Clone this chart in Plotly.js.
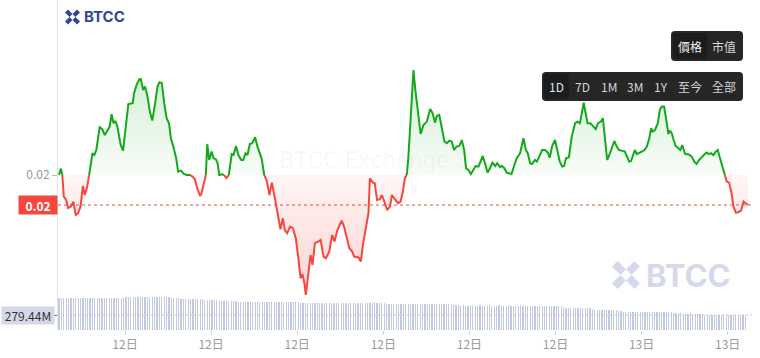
<!DOCTYPE html>
<html><head><meta charset="utf-8">
<script src="https://cdn.plot.ly/plotly-3.0.1.min.js"></script>
<style>html,body{margin:0;padding:0;background:#fff;}#chart{width:760px;height:358px;}</style>
</head><body><div id="chart"></div>
<script>
// ---- data ----
const openPrice = 0.02;
const priceMinutes = [222,226,229,232,237,241,247,252,257,262,267,272,276,281,285,289,292,296,300,307,312,318,323,328,332,336,340,344,351,356,362,367,376,379,384,390,393,398,402,407,412,417,423,428,432,437,442,447,452,456,461,467,471,477,483,489,496,501,506,511,517,520,525,529,532,536,538,541,545,550,554,557,563,567,572,577,583,587,592,597,603,607,612,616,621,626,632,637,642,646,651,656,662,667,674,680,685,690,694,699,705,711,717,722,727,731,735,738,743,748,752,757,764,769,775,780,787,793,798,804,813,818,823,829,835,839,848,853,858,865,869,872,878,882,887,893,897,901,908,914,918,924,931,936,941,945,949,952,957,963,967,971,978,984,991,998,1003,1008,1012,1017,1022,1028,1033,1038,1043,1048,1053,1059,1064,1069,1073,1078,1083,1088,1093,1099,1108,1113,1118,1123,1128,1134,1138,1144,1148,1153,1158,1163,1168,1174,1179,1186,1189,1193,1198,1202,1207,1211,1217,1221,1226,1232,1238,1244,1248,1253,1259,1264,1269,1274,1278,1282,1288,1294,1301,1306,1311,1315,1319,1323,1327,1333,1339,1344,1349,1355,1359,1363,1368,1374,1379,1383,1388,1393,1398,1405,1410,1414,1418,1423,1426,1430,1435,1440,1446,1451,1456,1460,1463,1468,1474,1478,1482,1487,1491,1496,1499,1503,1507,1511,1517,1521,1525,1531,1538,1545,1550,1555,1560,1566,1570,1576,1581,1585,1590,1595,1599,1604,1609,1614,1618,1623,1628,1632,1637,1642,1648,1653,1658,1662];
const prices = [0.020000,0.020032,0.020000,0.019892,0.019875,0.019835,0.019842,0.019867,0.019800,0.019809,0.019842,0.019945,0.019900,0.019942,0.020000,0.020067,0.020109,0.020100,0.020125,0.020239,0.020230,0.020200,0.020220,0.020242,0.020304,0.020259,0.020270,0.020242,0.020150,0.020122,0.020250,0.020355,0.020359,0.020409,0.020450,0.020479,0.020480,0.020425,0.020442,0.020392,0.020317,0.020272,0.020359,0.020442,0.020464,0.020459,0.020359,0.020284,0.020259,0.020184,0.020142,0.020084,0.020017,0.020022,0.020005,0.020000,0.020000,0.019992,0.019979,0.019934,0.019895,0.019909,0.019967,0.020000,0.020154,0.020075,0.020092,0.020117,0.020084,0.020079,0.020055,0.020000,0.020004,0.020000,0.019984,0.020000,0.020104,0.020100,0.020145,0.020100,0.020075,0.020075,0.020109,0.020100,0.020155,0.020159,0.020189,0.020142,0.020109,0.020079,0.020000,0.019975,0.019900,0.019962,0.019875,0.019800,0.019729,0.019784,0.019725,0.019709,0.019742,0.019734,0.019684,0.019592,0.019484,0.019504,0.019459,0.019400,0.019509,0.019600,0.019550,0.019659,0.019667,0.019675,0.019592,0.019584,0.019617,0.019700,0.019667,0.019725,0.019772,0.019742,0.019692,0.019634,0.019617,0.019592,0.019588,0.019567,0.019659,0.019759,0.019809,0.019984,0.019962,0.019959,0.019875,0.019879,0.019900,0.019875,0.019825,0.019842,0.019900,0.019879,0.019859,0.019867,0.019917,0.019984,0.020000,0.020075,0.020275,0.020525,0.020425,0.020334,0.020205,0.020250,0.020267,0.020330,0.020309,0.020262,0.020295,0.020300,0.020234,0.020167,0.020159,0.020172,0.020167,0.020125,0.020142,0.020145,0.020175,0.020125,0.020034,0.020025,0.020005,0.020025,0.020045,0.020042,0.020095,0.020055,0.020012,0.020034,0.020062,0.020045,0.020059,0.020039,0.020045,0.020034,0.020012,0.020009,0.020004,0.020050,0.020084,0.020109,0.020142,0.020184,0.020125,0.020109,0.020059,0.020055,0.020075,0.020067,0.020092,0.020125,0.020125,0.020112,0.020087,0.020145,0.020175,0.020125,0.020067,0.020042,0.020045,0.020084,0.020089,0.020192,0.020259,0.020267,0.020259,0.020309,0.020362,0.020309,0.020259,0.020259,0.020245,0.020229,0.020259,0.020267,0.020284,0.020192,0.020075,0.020109,0.020139,0.020170,0.020142,0.020125,0.020122,0.020117,0.020089,0.020067,0.020070,0.020112,0.020125,0.020104,0.020112,0.020117,0.020125,0.020142,0.020184,0.020234,0.020217,0.020225,0.020259,0.020325,0.020342,0.020342,0.020284,0.020205,0.020222,0.020209,0.020175,0.020145,0.020134,0.020125,0.020150,0.020105,0.020104,0.020092,0.020067,0.020055,0.020075,0.020092,0.020100,0.020112,0.020104,0.020109,0.020100,0.020117,0.020125,0.020084,0.020042,0.020000,0.019967,0.019962,0.019909,0.019842,0.019812,0.019814,0.019822,0.019867,0.019855,0.019850];
const volumeStartMinute = 222;
const volumeStepMinutes = 5;
const volumesM = [
594,596,597,595,598,596,597,599,596,598,597,595,
596,598,597,599,598,600,597,598,599,601,600,598,
600,602,601,604,608,610,612,611,613,612,614,615,
613,612,614,615,613,612,611,613,610,608,606,598,
592,590,588,586,585,583,582,580,578,577,575,573,
570,568,565,563,560,556,552,549,546,543,540,537,
535,533,531,530,529,528,527,526,525,524,523,522,
523,522,521,522,523,521,522,520,521,522,521,520,
521,520,519,518,516,510,505,504,503,502,503,504,
503,502,503,504,502,503,502,501,503,502,503,502,
504,503,502,503,504,503,502,503,502,504,506,512,
513,512,512,511,500,490,486,485,484,485,484,483,
484,485,484,483,484,485,484,483,484,485,484,483,
484,483,485,484,483,482,484,483,478,470,462,458,
456,457,455,456,457,456,455,456,457,456,455,456,
457,456,455,456,457,456,455,456,457,456,455,454,
456,457,455,456,455,454,456,455,454,456,455,454,
455,456,454,455,453,452,450,430,412,410,411,410,
409,410,411,410,409,408,405,390,375,373,374,372,
373,374,372,373,371,370,360,345,337,335,336,335,
334,335,336,335,334,335,336,334,335,334,335,336,
335,334,333,332,330,318,310,307,308,307,306,307,
308,307,306,305,300,290,283,281,280,281,280,279,
280,281,280,279,280,281,280,279,280,280,279,279.44];
const volumeLabel = '279.44M';
const volumeLabelValue = 279.44;
const priceTickLabel = '0.02';
const tickHours = [6,9,12,15,18,21,24,27];
const tickLabels = ['12日','12日','12日','12日','12日','12日','13日','13日'];
const modeButtons = ['價格','市值'];
const rangeButtons = ['1D','7D','1M','3M','1Y','至今','全部'];

// ---- helpers ----
const W = 760, H = 358;
const T0 = Date.UTC(2024,10,12);
const toDate = m => new Date(T0 + Math.round(m*60000)).toISOString().slice(0,23).replace('T',' ');
const PX = x => x / W;
const PY = y => (H - y) / H;

const GREEN = '#13a91b', RED = '#f5473f';

// split line at the open-price baseline
const cm = [], cy = [];
for (let i = 0; i < prices.length; i++) {
  if (i > 0) {
    const a = prices[i-1], b = prices[i];
    if ((a - openPrice) * (b - openPrice) < 0) {
      const t = (openPrice - a) / (b - a);
      cm.push(priceMinutes[i-1] + t * (priceMinutes[i] - priceMinutes[i-1]));
      cy.push(openPrice);
    }
  }
  cm.push(priceMinutes[i]); cy.push(prices[i]);
}
const xs = cm.map(toDate);
const baseY = xs.map(() => openPrice);
const maxP = Math.max(...prices), minP = Math.min(...prices);
const lastPrice = prices[prices.length-1];
const clear = {width:0, color:'rgba(0,0,0,0)'};

const volX = volumesM.map((v,i) => toDate(volumeStartMinute + i*volumeStepMinutes));

const traces = [
  {x:xs, y:baseY, mode:'lines', line:clear, hoverinfo:'skip'},
  {x:xs, y:cy.map(v => Math.max(v, openPrice)), mode:'lines', line:clear, fill:'tonexty',
   fillcolor:'rgba(19,169,27,0.08)',
   fillgradient:{type:'vertical', start:openPrice, stop:maxP,
     colorscale:[[0,'rgba(19,169,27,0.03)'],[1,'rgba(19,169,27,0.19)']]}},
  {x:xs, y:baseY, mode:'lines', line:clear, hoverinfo:'skip'},
  {x:xs, y:cy.map(v => Math.min(v, openPrice)), mode:'lines', line:clear, fill:'tonexty',
   fillcolor:'rgba(245,71,63,0.1)',
   fillgradient:{type:'vertical', start:minP, stop:openPrice,
     colorscale:[[0,'rgba(245,71,63,0.24)'],[1,'rgba(245,71,63,0.05)']]}},
  {x:xs, y:cy.map(v => v <= openPrice ? v : null), mode:'lines', connectgaps:false,
   line:{color:RED, width:2}},
  {x:xs, y:cy.map(v => v >= openPrice ? v : null), mode:'lines', connectgaps:false,
   line:{color:GREEN, width:2}},
  {type:'bar', x:volX, y:volumesM, yaxis:'y2', width:volumeStepMinutes*60000*0.5,
   marker:{color:'#c3c9e2', line:{width:0}}}
];

// rounded-rectangle path in pixel coords -> paper coords
function roundRect(x0,y0,x1,y1,r){
  const p = (x,y) => PX(x)+','+PY(y);
  return 'M'+p(x0+r,y0)+' L'+p(x1-r,y0)+' Q'+p(x1,y0)+' '+p(x1,y0+r)+
    ' L'+p(x1,y1-r)+' Q'+p(x1,y1)+' '+p(x1-r,y1)+
    ' L'+p(x0+r,y1)+' Q'+p(x0,y1)+' '+p(x0,y1-r)+
    ' L'+p(x0,y0+r)+' Q'+p(x0,y0)+' '+p(x0+r,y0)+' Z';
}
const iconArms = [
  [[0,0.2],[0.2,0],[0.5,0.3],[0.3,0.5]],
  [[1,0.2],[0.8,0],[0.5,0.3],[0.7,0.5]],
  [[0,0.8],[0.2,1],[0.5,0.7],[0.3,0.5]],
  [[1,0.8],[0.8,1],[0.5,0.7],[0.7,0.5]]
];
function iconShapes(ox, oy, s, color){
  return iconArms.map(a => ({type:'path', xref:'paper', yref:'paper', layer:'above',
    path: a.map((p,i)=>(i?'L':'M')+PX(ox+p[0]*s)+','+PY(oy+p[1]*s)).join(' ')+' Z',
    fillcolor:color, line:{width:0}}));
}

const shapes = [
  {type:'line', xref:'paper', x0:PX(58), x1:PX(752), yref:'y', y0:lastPrice, y1:lastPrice,
   line:{color:RED, width:1, dash:'3px,3px'}},
  {type:'line', xref:'paper', x0:PX(58), x1:PX(752), yref:'y2', y0:volumeLabelValue, y1:volumeLabelValue,
   line:{color:'rgba(170,178,210,0.6)', width:1, dash:'2px,2px'}},
  {type:'path', xref:'paper', yref:'paper', layer:'above', path:roundRect(671,31,743,61,4), fillcolor:'#262626', line:{width:0}},
  {type:'path', xref:'paper', yref:'paper', layer:'above', path:roundRect(673,33,707,59,3), fillcolor:'#1c1c1c', line:{width:0}},
  {type:'path', xref:'paper', yref:'paper', layer:'above', path:roundRect(542,72,743,101,4), fillcolor:'#262626', line:{width:0}},
  {type:'path', xref:'paper', yref:'paper', layer:'above', path:roundRect(544,74,569,99,3), fillcolor:'#1c1c1c', line:{width:0}},
  ...iconShapes(65, 9.5, 15, '#34459b'),
  ...iconShapes(612, 261, 28, '#d5d9eb')
];

const FONT = '"Noto Sans CJK TC", "Noto Sans CJK SC", "Noto Sans", sans-serif';
const modeX = [690, 723.5];
const rangeX = [556.5, 582.5, 609, 635, 660.5, 690, 723.5];
const annotations = [
  {xref:'paper', yref:'paper', x:PX(81.5), y:PY(16.5), xanchor:'left', yanchor:'middle', showarrow:false,
   text:'<b>BTCC</b>', font:{family:'Inter, Roboto, sans-serif', size:15, color:'#34459b'}},
  {xref:'paper', yref:'paper', x:PX(644), y:PY(275), xanchor:'left', yanchor:'middle', showarrow:false,
   text:'<b>BTCC</b>', font:{family:'Inter, Roboto, sans-serif', size:31, color:'#d5d9eb'}},
  {xref:'paper', yref:'paper', x:PX(277), y:PY(160), xanchor:'left', yanchor:'middle', showarrow:false,
   text:'BTCC Exchange S', font:{family:'Roboto, sans-serif', size:24, color:'rgba(0,0,0,0.035)'}},
  {xref:'paper', x:PX(58), xanchor:'right', yref:'y', y:lastPrice, yanchor:'middle', showarrow:false,
   text:'<b>'+priceTickLabel+'</b>', bgcolor:RED, width:34, height:14, borderpad:2,
   font:{family:FONT, size:12, color:'#ffffff'}},
  {xref:'paper', x:PX(55), xanchor:'right', yref:'y2', y:volumeLabelValue, yanchor:'middle', showarrow:false,
   text:volumeLabel, bgcolor:'#d4d8e9', width:48, height:13, borderpad:2,
   font:{family:FONT, size:12, color:'#333333'}},
  ...modeButtons.map((t,i)=>({xref:'paper', yref:'paper', x:PX(modeX[i]), y:PY(47), xanchor:'center', yanchor:'middle',
    showarrow:false, text:t, font:{family:FONT, size:12, color: i===0 ? '#f0f0f0' : '#d8d8d8'}})),
  ...rangeButtons.map((t,i)=>({xref:'paper', yref:'paper', x:PX(rangeX[i]), y:PY(86.5), xanchor:'center', yanchor:'middle',
    showarrow:false, text:t, font:{family:FONT, size:12, color: i===0 ? '#dde4ee' : '#d4d4d4'}}))
];

const layout = {
  width:W, height:H, margin:{l:0,r:0,t:0,b:0}, paper_bgcolor:'#ffffff', plot_bgcolor:'rgba(0,0,0,0)',
  showlegend:false, font:{family:FONT, size:12, color:'#999999'}, bargap:0,
  xaxis:{type:'date', domain:[PX(58), PX(752)], range:[toDate(219.93), toDate(1670.8)], anchor:'y2',
    tickmode:'array', tickvals:tickHours.map(h=>toDate(h*60)), ticktext:tickLabels,
    ticks:'outside', ticklen:4, tickcolor:'#d0d0d0', showgrid:false, zeroline:false, showline:false,
    tickfont:{size:12, color:'#999999'}},
  yaxis:{domain:[PY(330), 1], range:[0.019225, 0.020875], anchor:'x',
    tickmode:'array', tickvals:[openPrice], ticktext:[priceTickLabel],
    ticks:'outside', ticklen:5, tickcolor:'#bbbbbb', showline:true, linecolor:'#e3e3e3', linewidth:1,
    showgrid:false, zeroline:false, tickfont:{size:12, color:'#999999'}},
  yaxis2:{domain:[PY(330), PY(290.4)], range:[0, 737.7], anchor:'x',
    tickmode:'array', tickvals:[volumeLabelValue], ticks:'outside', ticklen:3, tickcolor:'#666666',
    showticklabels:false, showgrid:false, zeroline:false, showline:false},
  shapes, annotations
};

Plotly.newPlot('chart', traces, layout, {staticPlot:true, displayModeBar:false});
</script>
</body></html>
